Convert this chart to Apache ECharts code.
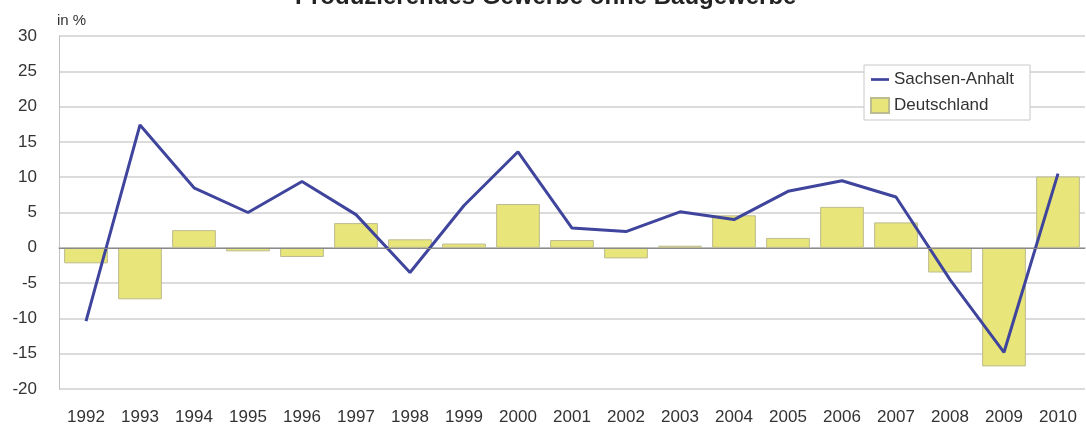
<!DOCTYPE html>
<html>
<head>
<meta charset="utf-8">
<script src="https://cdn.jsdelivr.net/npm/echarts@6/dist/echarts.min.js"></script>
<style>
  html, body { margin: 0; padding: 0; background: #fff; }
  #chart { width: 1086px; height: 434px; }
</style>
</head>
<body>
<div id="chart"></div>
<script>
// Jahre
var years = ["1992", "1993", "1994", "1995", "1996", "1997", "1998", "1999", "2000", "2001",
  "2002", "2003", "2004", "2005", "2006", "2007", "2008", "2009", "2010"];
// Veränderung in %
var sachsenAnhalt = [-10.4, 17.4, 8.5, 5.0, 9.4, 4.7, -3.5, 6.0, 13.6, 2.8,
  2.3, 5.1, 4.0, 8.0, 9.5, 7.2, -4.5, -14.8, 10.5];
var deutschland = [-2.2, -7.3, 2.5, -0.5, -1.3, 3.5, 1.2, 0.6, 6.2, 1.1,
  -1.5, 0.3, 4.6, 1.4, 5.8, 3.6, -3.5, -16.8, 10.1];

var chart = echarts.init(document.getElementById("chart"));
chart.setOption({
  animation: false,
  textStyle: { fontFamily: "Liberation Sans, Arial, sans-serif" },
  title: {
    text: "Produzierendes Gewerbe ohne Baugewerbe",
    left: 290,
    top: -20,
    textStyle: { fontSize: 24, fontWeight: "bold", color: "#222" }
  },
  legend: {
    orient: "vertical",
    left: 864,
    top: 65,
    padding: [6, 16, 6, 6],
    itemGap: 9,
    itemWidth: 18,
    itemHeight: 15,
    backgroundColor: "#fff",
    borderColor: "#c8c8c8",
    borderWidth: 1,
    textStyle: { fontSize: 17, color: "#333" },
    data: [
      { name: "Sachsen-Anhalt", icon: "path://M0,0 L20,0 L20,3 L0,3 Z" },
      { name: "Deutschland", icon: "rect" }
    ]
  },
  grid: { left: 59, right: 1, top: 36, bottom: 45 },
  xAxis: {
    type: "category",
    data: years,
    axisLine: { lineStyle: { color: "#b4b4b4", width: 1.5 } },
    axisTick: { alignWithLabel: true, length: 10, lineStyle: { color: "#c0c0c0" } },
    axisLabel: { fontSize: 17, color: "#333", margin: 20 }
  },
  yAxis: {
    type: "value",
    min: -20,
    max: 30,
    interval: 5,
    name: "in %",
    nameLocation: "end",
    nameGap: 8,
    nameTextStyle: { fontSize: 15, color: "#333", align: "left", padding: [0, 0, 0, -2] },
    axisLine: { show: true, lineStyle: { color: "#c0c0c0" } },
    axisTick: { show: false },
    axisLabel: { fontSize: 17, color: "#333", margin: 22 },
    splitLine: { lineStyle: { color: "#cfcfcf", width: 1.5 } }
  },
  series: [
    {
      name: "Deutschland",
      type: "bar",
      data: deutschland,
      barCategoryGap: "19%",
      itemStyle: { color: "#e8e57a", borderColor: "#bdbb90", borderWidth: 1 },
      markLine: {
        silent: true,
        symbol: "none",
        label: { show: false },
        lineStyle: { color: "#8a8a8a", type: "solid", width: 1.2 },
        data: [{ yAxis: 0 }]
      },
      z: 2
    },
    {
      name: "Sachsen-Anhalt",
      type: "line",
      data: sachsenAnhalt,
      symbol: "none",
      lineStyle: { color: "#3f449c", width: 3 },
      itemStyle: { color: "#3f449c" },
      z: 3
    }
  ]
});
</script>
</body>
</html>
